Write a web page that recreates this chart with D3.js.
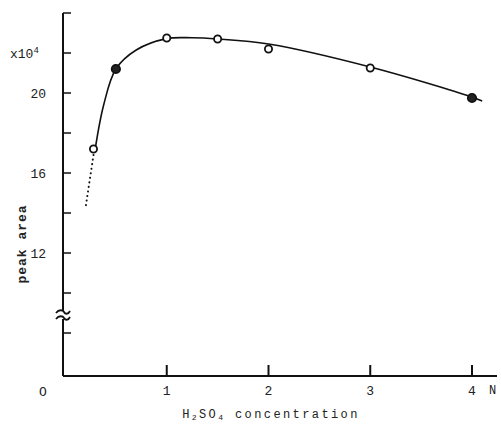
<!DOCTYPE html>
<html>
<head>
<meta charset="utf-8">
<script src="https://cdn.jsdelivr.net/npm/d3@7"></script>
<style>
  body { margin: 0; background: #fff; }
  text { font-family: "Liberation Mono", "DejaVu Sans Mono", monospace; fill: #222; }
</style>
</head>
<body>
<div id="chart"></div>
<script>
// measured points (H2SO4 N, peak area x10^4)
var concN = [0.28, 0.5, 1, 1.5, 2, 3, 4];
var peakArea = [17.2, 21.2, 22.75, 22.7, 22.2, 21.25, 19.75];
var markerFilled = [false, true, false, false, false, false, true];

// fitted curve
var curveX = [0.3, 0.38, 0.5, 0.7, 1, 1.25, 1.5, 2, 3, 4, 4.1];
var curveY = [17.3, 19.4, 21.2, 22.15, 22.72, 22.76, 22.7, 22.45, 21.3, 19.8, 19.6];

// dotted extrapolation below first point
var dotX = [0.28, 0.2];
var dotY = [16.9, 14.2];

var xTicks = [1, 2, 3, 4];
var yTicks = [8, 10, 12, 14, 16, 18, 20, 22, 24];
var yLabels = [12, 16, 20];

var svgWidth = 501;
var svgHeight = 425;

var svg = d3.select("#chart")
  .append("svg")
  .attr("width", svgWidth)
  .attr("height", svgHeight);

// scales
var xScale = d3.scaleLinear().domain([0, 4]).range([65, 472]);
var yScale = d3.scaleLinear().domain([20, 16]).range([93, 173]);

var axisX = 63;
var axisBottom = 376;
var axisTop = yScale(24);

// y axis line
svg.append("line")
  .attr("x1", axisX).attr("x2", axisX)
  .attr("y1", axisTop).attr("y2", axisBottom)
  .attr("stroke", "#111").attr("stroke-width", 2);

// x axis line
svg.append("line")
  .attr("x1", axisX).attr("x2", 497)
  .attr("y1", axisBottom).attr("y2", axisBottom)
  .attr("stroke", "#111").attr("stroke-width", 2);

// y ticks (inward)
svg.selectAll(".ytick")
  .data(yTicks)
  .enter()
  .append("line")
  .attr("x1", axisX).attr("x2", axisX + 8)
  .attr("y1", d => yScale(d)).attr("y2", d => yScale(d))
  .attr("stroke", "#111").attr("stroke-width", 1.5);

svg.selectAll(".ylab")
  .data(yLabels)
  .enter()
  .append("text")
  .attr("x", 46)
  .attr("y", d => yScale(d))
  .attr("dy", "0.35em")
  .attr("text-anchor", "end")
  .style("font-size", "13px")
  .text(d => d);

// x10^4 label
var mult = svg.append("text")
  .attr("x", 10)
  .attr("y", yScale(22) + 5)
  .style("font-size", "13px");
mult.append("tspan").text("x10");
mult.append("tspan").attr("dy", -5).style("font-size", "9px").text("4");

// x ticks (upward)
svg.selectAll(".xtick")
  .data(xTicks)
  .enter()
  .append("line")
  .attr("x1", d => xScale(d)).attr("x2", d => xScale(d))
  .attr("y1", axisBottom).attr("y2", axisBottom - 11)
  .attr("stroke", "#111").attr("stroke-width", 2);

svg.selectAll(".xlab")
  .data(xTicks)
  .enter()
  .append("text")
  .attr("x", d => xScale(d))
  .attr("y", 390)
  .attr("dy", "0.35em")
  .attr("text-anchor", "middle")
  .style("font-size", "13px")
  .text(d => d);

// origin label and unit
svg.append("text")
  .attr("x", 43).attr("y", 391).attr("dy", "0.35em")
  .attr("text-anchor", "middle")
  .style("font-size", "13px")
  .text("O");

svg.append("text")
  .attr("x", 489).attr("y", 390).attr("dy", "0.35em")
  .style("font-size", "12px")
  .text("N");

// axis break mark
var brk = svg.append("g").attr("transform", "translate(" + axisX + ",315)");
brk.append("rect").attr("x", -3).attr("y", -4).attr("width", 6).attr("height", 8).attr("fill", "#fff");
[-3, 3].forEach(function (dy) {
  brk.append("path")
    .attr("d", "M-7," + (dy + 1) + " C-4," + (dy - 3) + " 0," + (dy - 2) + " 1," + dy + " S5," + (dy + 3) + " 7," + (dy - 1))
    .attr("fill", "none")
    .attr("stroke", "#111")
    .attr("stroke-width", 1.8);
});

// axis titles
svg.append("text")
  .attr("x", 271).attr("y", 418)
  .attr("text-anchor", "middle")
  .style("font-size", "12px")
  .style("letter-spacing", "2.4px")
  .html("H<tspan dy='2' font-size='8px'>2</tspan><tspan dy='-2'>SO</tspan><tspan dy='2' font-size='8px'>4</tspan><tspan dy='-2'> concentration</tspan>");

svg.append("text")
  .attr("transform", "translate(26,244) rotate(-90)")
  .attr("text-anchor", "middle")
  .style("font-size", "13px")
  .style("font-weight", "bold")
  .style("letter-spacing", "1px")
  .text("peak  area");

// fitted curve
var curvePts = curveX.map((x, i) => [x, curveY[i]]);
var line = d3.line()
  .x(d => xScale(d[0]))
  .y(d => yScale(d[1]))
  .curve(d3.curveCatmullRom.alpha(0.5));

svg.append("path")
  .datum(curvePts)
  .attr("d", line)
  .attr("fill", "none")
  .attr("stroke", "#111")
  .attr("stroke-width", 1.6);

// dotted extrapolation
svg.append("path")
  .datum(dotX.map((x, i) => [x, dotY[i]]))
  .attr("d", d3.line().x(d => xScale(d[0])).y(d => yScale(d[1])))
  .attr("fill", "none")
  .attr("stroke", "#111")
  .attr("stroke-width", 2)
  .attr("stroke-linecap", "round")
  .attr("stroke-dasharray", "0.1,4.5");

// markers
svg.selectAll(".pt")
  .data(concN)
  .enter()
  .append("circle")
  .attr("cx", d => xScale(d))
  .attr("cy", (d, i) => yScale(peakArea[i]))
  .attr("r", (d, i) => markerFilled[i] ? 4.2 : 3.6)
  .attr("fill", (d, i) => markerFilled[i] ? "#222" : "#fff")
  .attr("stroke", "#111")
  .attr("stroke-width", 1.8);
</script>
</body>
</html>
